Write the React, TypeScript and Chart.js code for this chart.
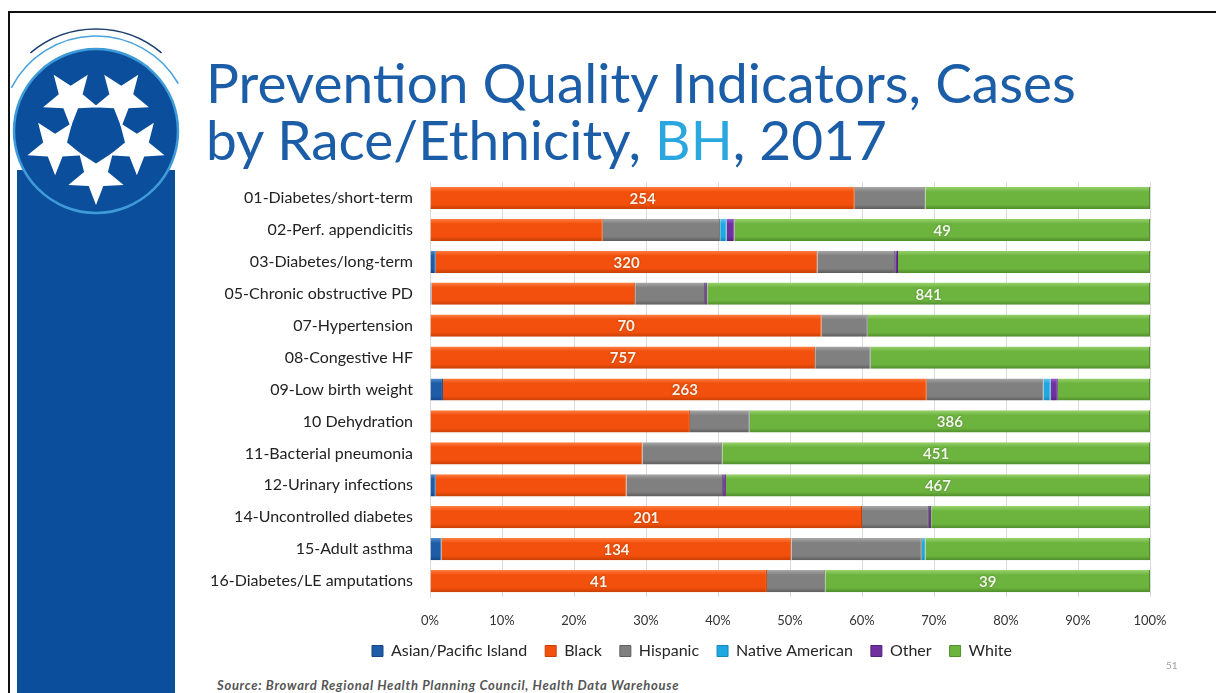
import React, { useEffect, useRef } from "react";
import { Chart, registerables } from "chart.js";

Chart.register(...registerables);

const categories = [
  "01-Diabetes/short-term",
  "02-Perf. appendicitis",
  "03-Diabetes/long-term",
  "05-Chronic obstructive PD",
  "07-Hypertension",
  "08-Congestive HF",
  "09-Low birth weight",
  "10 Dehydration",
  "11-Bacterial pneumonia",
  "12-Urinary infections",
  "14-Uncontrolled diabetes",
  "15-Adult asthma",
  "16-Diabetes/LE amputations",
];

const seriesNames = ["Asian/Pacific Island", "Black", "Hispanic", "Native American", "Other", "White"];

// share of cases, percent
const asianPct = [0, 0, 0.8, 0.2, 0, 0, 1.8, 0, 0, 0.8, 0, 1.6, 0];
const blackPct = [59, 24, 53, 28.3, 54.4, 53.5, 67.2, 36.1, 29.5, 26.5, 60, 48.6, 46.8];
const hispanicPct = [9.8, 16.3, 10.8, 9.7, 6.4, 7.7, 16.2, 8.3, 11.1, 13.4, 9.3, 18.1, 8.1];
const nativePct = [0, 0.9, 0, 0, 0, 0, 1, 0, 0, 0, 0, 0.5, 0];
const otherPct = [0, 1.1, 0.4, 0.3, 0, 0, 1, 0, 0, 0.4, 0.3, 0, 0];
const whitePct = [31.2, 57.7, 35, 61.5, 39.2, 38.8, 12.8, 55.6, 59.4, 58.9, 30.4, 31.2, 45.1];

// case counts printed on segments
const blackCases = [254, null, 320, null, 70, 757, 263, null, null, null, 201, 134, 41];
const whiteCases = [null, 49, null, 841, null, null, null, 386, 451, 467, null, null, 39];

const xTickValues = [0, 10, 20, 30, 40, 50, 60, 70, 80, 90, 100];

const palette = [
  { light: "#4F8BCB", mid: "#1F5CA8", dark: "#154686" },
  { light: "#FF7E42", mid: "#F2500C", dark: "#C84004" },
  { light: "#A8A8A8", mid: "#808080", dark: "#5E5E5E" },
  { light: "#62C8F0", mid: "#1FA8E0", dark: "#1488BC" },
  { light: "#9C5CCB", mid: "#7030A0", dark: "#53227A" },
  { light: "#98D16C", mid: "#6DB43F", dark: "#4F8E2B" },
];

const FONT = "Lato, 'Open Sans', sans-serif";

function makeBg(idx: number) {
  const c = palette[idx];
  return (ctx: any) => {
    if (ctx.type !== "data") return c.mid;
    const chart = ctx.chart;
    const ys = chart.scales && chart.scales.y;
    if (!ys) return c.mid;
    const yc = ys.getPixelForValue(ctx.dataIndex);
    if (!isFinite(yc)) return c.mid;
    const g = chart.ctx.createLinearGradient(0, yc - 11, 0, yc + 11);
    g.addColorStop(0, c.light);
    g.addColorStop(0.22, c.mid);
    g.addColorStop(0.8, c.mid);
    g.addColorStop(1, c.dark);
    return g;
  };
}

const caseLabelPlugin = {
  id: "caseLabels",
  afterDatasetsDraw(chart: any) {
    const ctx = chart.ctx;
    const sets: [number, (number | null)[]][] = [
      [1, blackCases],
      [5, whiteCases],
    ];
    ctx.save();
    ctx.font = `bold 15px ${FONT}`;
    ctx.textAlign = "center";
    ctx.textBaseline = "middle";
    ctx.shadowColor = "rgba(0,0,0,0.35)";
    ctx.shadowBlur = 2;
    for (const [di, arr] of sets) {
      const meta = chart.getDatasetMeta(di);
      meta.data.forEach((el: any, i: number) => {
        const v = arr[i];
        if (v == null) return;
        const p = el.getProps(["x", "base", "y"], true);
        ctx.fillStyle = di === 1 ? "#FFF1E4" : "#EEF7E6";
        ctx.fillText(String(v), (p.x + p.base) / 2, p.y + 1);
      });
    }
    ctx.restore();
  },
};

// shift the legend so it is centred where the slide's legend sits
const legendShiftPlugin = {
  id: "legendShift",
  afterLayout(chart: any) {
    if (chart.legend) {
      chart.legend.left += 84;
    }
  },
};

function starPoints(cx: number, cy: number, R: number, r: number, orientDeg: number) {
  const pts: string[] = [];
  for (let k = 0; k < 10; k++) {
    const a = ((orientDeg + k * 36) * Math.PI) / 180;
    const rad = k % 2 === 0 ? R : r;
    pts.push(`${(cx + rad * Math.cos(a)).toFixed(1)},${(cy + rad * Math.sin(a)).toFixed(1)}`);
  }
  return pts.join(" ");
}

function arcPath(cx: number, cy: number, r: number, a0: number, a1: number) {
  const p0 = [cx + r * Math.cos((a0 * Math.PI) / 180), cy + r * Math.sin((a0 * Math.PI) / 180)];
  const p1 = [cx + r * Math.cos((a1 * Math.PI) / 180), cy + r * Math.sin((a1 * Math.PI) / 180)];
  return `M ${p0[0]} ${p0[1]} A ${r} ${r} 0 0 1 ${p1[0]} ${p1[1]}`;
}

function Logo() {
  const cx = 96;
  const cy = 131;
  const starAngles = [-126, -54, 18, 90, 162];
  return (
    <svg
      width={200}
      height={240}
      style={{ position: "absolute", left: 0, top: 0 }}
      viewBox="0 0 200 240"
    >
      <path d={arcPath(cx, cy, 102, -130, -50)} stroke="#1D3F70" strokeWidth={1.6} fill="none" />
      <path d={arcPath(cx, cy, 95, -153, -30)} stroke="#4AA3DC" strokeWidth={1.6} fill="none" />
      <circle cx={cx} cy={cy} r={82} fill="#0B4F9C" stroke="#3E9BD8" strokeWidth={2.5} />
      {starAngles.map((a, i) => {
        const d = 43;
        const sx = cx + d * Math.cos((a * Math.PI) / 180);
        const sy = cy + 2 + d * Math.sin((a * Math.PI) / 180);
        return <polygon key={i} points={starPoints(sx, sy, 29, 12.5, a)} fill="#FFFFFF" />;
      })}
    </svg>
  );
}

export default function App() {
  const canvasRef = useRef<HTMLCanvasElement | null>(null);

  useEffect(() => {
    let chart: Chart | null = null;
    let cancelled = false;
    const build = () => {
      if (cancelled || !canvasRef.current) return;
      const datasets = [asianPct, blackPct, hispanicPct, nativePct, otherPct, whitePct].map((d, i) => ({
        label: seriesNames[i],
        data: d,
        backgroundColor: makeBg(i),
        borderColor: palette[i].dark,
        borderWidth: { top: 0, bottom: 0, left: 0, right: 1 },
        borderSkipped: false,
        categoryPercentage: 0.8,
        barPercentage: 0.87,
      }));
      chart = new Chart(canvasRef.current, {
        type: "bar",
        data: { labels: categories, datasets } as any,
        plugins: [caseLabelPlugin, legendShiftPlugin],
        options: {
          indexAxis: "y",
          animation: false,
          responsive: true,
          maintainAspectRatio: false,
          layout: { padding: { top: 6, right: 50, left: 0, bottom: 7 } },
          scales: {
            x: {
              stacked: true,
              min: 0,
              max: 100,
              afterBuildTicks: (s: any) => {
                s.ticks = xTickValues.map((v) => ({ value: v }));
              },
              ticks: {
                callback: (v: any) => `${v}%`,
                color: "#333333",
                font: { family: FONT, size: 13 },
                padding: 16,
                maxRotation: 0,
              },
              grid: { color: "#D9D9D9", drawTicks: false, lineWidth: 1 },
              border: { display: false },
              afterFit: (s: any) => {
                s.height = 28;
                s.paddingLeft = 0;
                s.paddingRight = 0;
              },
            },
            y: {
              stacked: true,
              ticks: {
                color: "#222222",
                font: { family: FONT, size: 16 },
                padding: 17,
                autoSkip: false,
              },
              grid: { display: false, drawTicks: false },
              border: { display: true, color: "#D9D9D9" },
              afterFit: (s: any) => {
                s.width = 280;
                s.paddingTop = 0;
                s.paddingBottom = 0;
              },
            },
          },
          plugins: {
            legend: {
              position: "bottom",
              labels: {
                boxWidth: 11,
                boxHeight: 11,
                padding: 18,
                color: "#262626",
                font: { family: FONT, size: 16 },
                generateLabels: () =>
                  seriesNames.map((n, i) => ({
                    text: n,
                    fillStyle: palette[i].mid,
                    strokeStyle: palette[i].dark,
                    lineWidth: 1,
                    hidden: false,
                    datasetIndex: i,
                    fontColor: "#262626",
                  })),
              },
            },
            tooltip: { enabled: false },
          },
        } as any,
      });
    };
    const fontsReady = (document as any).fonts
      ? Promise.all([
          (document as any).fonts.load(`14px Lato`),
          (document as any).fonts.load(`bold 15px Lato`),
        ]).catch(() => null)
      : Promise.resolve(null);
    fontsReady.then(build);
    return () => {
      cancelled = true;
      if (chart) chart.destroy();
    };
  }, []);

  return (
    <div
      style={{
        position: "absolute",
        left: 0,
        top: 0,
        width: 1216,
        height: 693,
        overflow: "hidden",
        background: "#FFFFFF",
        fontFamily: FONT,
      }}
    >
      <div
        style={{
          position: "absolute",
          left: 8,
          top: 11,
          width: 1230,
          height: 720,
          borderTop: "2px solid #111",
          borderLeft: "2px solid #111",
        }}
      />
      <div
        style={{
          position: "absolute",
          left: 17,
          top: 170,
          width: 158,
          height: 540,
          background: "#0B4F9C",
        }}
      />
      <Logo />
      <div
        style={{
          position: "absolute",
          left: 206,
          top: 54,
          color: "#1C5DA8",
          fontSize: 55,
          lineHeight: "57px",
          whiteSpace: "nowrap",
          fontFamily: FONT,
        }}
      >
        Prevention Quality Indicators, Cases
        <br />
        by Race/Ethnicity, <span style={{ color: "#2AA7DF" }}>BH</span>, 2017
      </div>
      <div style={{ position: "absolute", left: 150, top: 176, width: 1050, height: 500 }}>
        <canvas ref={canvasRef} />
      </div>
      <div
        style={{
          position: "absolute",
          left: 217,
          top: 677,
          fontSize: 13,
          letterSpacing: "0.7px",
          fontStyle: "italic",
          fontWeight: "bold",
          color: "#555555",
          whiteSpace: "nowrap",
          fontFamily: FONT,
        }}
      >
        Source: Broward Regional Health Planning Council, Health Data Warehouse
      </div>
      <div
        style={{
          position: "absolute",
          left: 1166,
          top: 659,
          fontSize: 10,
          color: "#A0A0A0",
          fontFamily: FONT,
        }}
      >
        51
      </div>
    </div>
  );
}
